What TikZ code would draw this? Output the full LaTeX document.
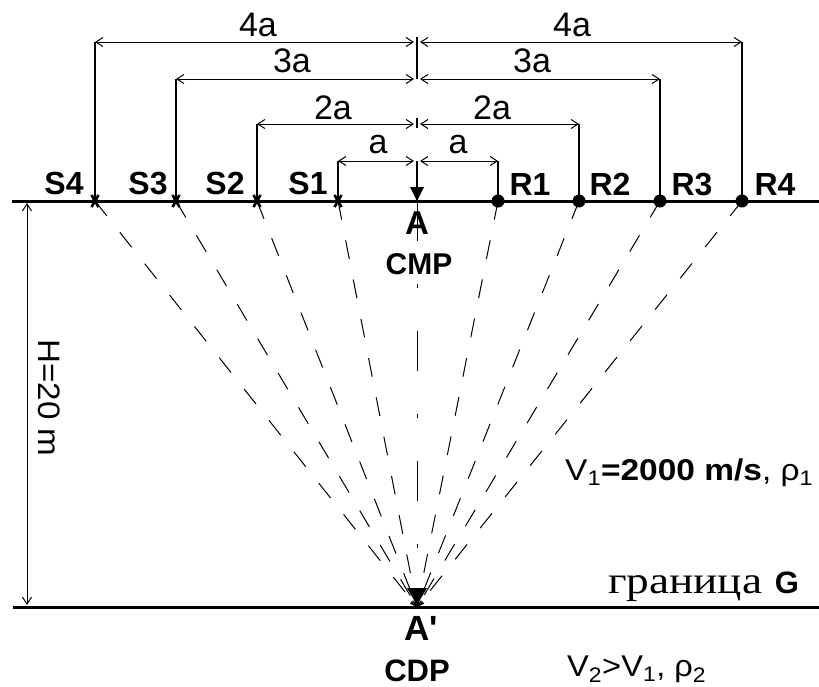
\documentclass[tikz,border=0pt]{standalone}
\usepackage{fontspec}
\setmainfont{Liberation Sans}
\newfontfamily\ruserif{Liberation Serif}
\usetikzlibrary{arrows.meta}
\newcommand\fitw[2]{\resizebox{#1}{\height}{#2}}
\begin{document}
\begin{tikzpicture}[x=1pt,y=-1pt,
  ground/.style={line width=3pt},
  dimline/.style={line width=1pt,{Straight Barb[length=7pt,width=9pt]}-{Straight Barb[length=7pt,width=9pt]}},
  guide/.style={line width=1.2pt},
  ray/.style={line width=1pt,dash pattern=on 19pt off 21pt,-{Straight Barb[length=6pt,width=6pt]}},
  axisline/.style={line width=1pt,dash pattern=on 40pt off 43pt on 4pt off 43pt},
  lbl/.style={font=\fontsize{32}{36}\selectfont\bfseries,inner sep=0pt,anchor=base},
  dimlbl/.style={font=\fontsize{34}{38}\selectfont,inner sep=0pt},
  rec/.style={circle,fill,inner sep=0pt,minimum size=13pt},
  src/.style={line width=2.6pt},
  txt/.style={inner sep=0pt,font=\fontsize{30}{34}\selectfont},
]
\useasboundingbox (0,0) rectangle (819,686);
% ground lines
\coordinate (gL) at (12,201);
\coordinate (gR) at (819,201);
\coordinate (bL) at (13,607);
\coordinate (bR) at (819,607);
\draw[ground] (gL) -- (gR);
\draw[ground] (bL) -- (bR);
% points
\coordinate (A) at (417,201);
\coordinate (Ap) at (417,607);
\foreach \i/\sx/\rx in {1/338/498,2/257/579,3/176/660,4/95/742}{
  \coordinate (S\i) at (\sx,201);
  \coordinate (R\i) at (\rx,201);
}
% rays
\draw[axisline] (A) -- (Ap);
\foreach \i in {1,2,3,4}{
  \draw[ray] (S\i) -- (Ap);
  \draw[ray] (R\i) -- (Ap);
}
% dimension lines
\foreach \i/\sx/\rx/\lv in {1/338/498/161,2/257/579/124,3/176/660/79,4/95/742/42}{
  \coordinate (sd\i) at (\sx,\lv);
  \coordinate (cdl\i) at (414,\lv);
  \coordinate (cdr\i) at (420,\lv);
  \coordinate (rd\i) at (\rx,\lv);
  \draw[guide] (S\i) -- (sd\i);
  \draw[guide] (R\i) -- (rd\i);
  \draw[dimline] (sd\i) -- (cdl\i);
  \draw[dimline] (cdr\i) -- (rd\i);
}
\coordinate (ctop) at (417,37);
\coordinate (c3) at (417,79);
\coordinate (c2a) at (417,118);
\coordinate (c2b) at (417,128);
\coordinate (c1) at (417,161);
\draw[guide] (ctop) -- (c3);
\draw[guide] (c2a) -- (c2b);
\draw[guide] (c1) -- (A);
\fill (410,187) -- (424,187) -- (A) -- cycle;
\fill (407,588) -- (427,588) -- (417,605) -- cycle;
% markers
\foreach \i in {1,2,3,4}{
  \node[rec] (rc\i) at (R\i) {};
  \fill (S\i) circle (3pt);
  \foreach \a in {0,60,120}{
    \draw[src] (S\i) ++(\a:7) -- ++(\a+180:14);
  }
}
% station labels
\node[lbl] (tS4) at (64,194) {S4};
\node[lbl] (tS3) at (148,194) {S3};
\node[lbl] (tS2) at (225,194) {S2};
\node[lbl] (tS1) at (308,194) {S1};
\node[lbl] (tR1) at (530,195) {R1};
\node[lbl] (tR2) at (610,195) {R2};
\node[lbl] (tR3) at (692,195) {R3};
\node[lbl] (tR4) at (775,195) {R4};
% dimension labels
\node[dimlbl] (d4l) at (258,25) {4a};
\node[dimlbl] (d4r) at (572,25) {4a};
\node[dimlbl] (d3l) at (292,61) {3a};
\node[dimlbl] (d3r) at (532,61) {3a};
\node[dimlbl] (d2l) at (333,108) {2a};
\node[dimlbl] (d2r) at (492,108) {2a};
\node[dimlbl] (d1l) at (378,145) {a};
\node[dimlbl] (d1r) at (458,145) {a};
% A, CMP, A', CDP
\node[inner sep=0pt,anchor=base,font=\fontsize{33}{36}\selectfont\bfseries] (tA) at (417,234) {A};
\node[inner sep=0pt,anchor=base,font=\fontsize{30}{33}\selectfont\bfseries] (tCMP) at (419,274) {CMP};
\node[inner sep=0pt,anchor=base,font=\fontsize{35}{38}\selectfont\bfseries] (tAp) at (421,640) {A\textquotesingle};
\node[inner sep=0pt,anchor=base,font=\fontsize{31}{34}\selectfont\bfseries] (tCDP) at (417,681) {CDP};
% H arrow
\coordinate (hT) at (27,203);
\coordinate (hB) at (27,605);
\draw[dimline] (hT) -- (hB);
\node[inner sep=0pt,font=\fontsize{31}{34}\selectfont,rotate=-90] (tH) at (49,398) {\fitw{117pt}{H=20 m}};
% media texts
\node[txt,anchor=base west] (tV1) at (565,480) {\fitw{248pt}{V\textsubscript{1}\textbf{=2000 m/s}, ρ\textsubscript{1}}};
\node[txt,anchor=base west] (tV2) at (567,676) {\fitw{139pt}{V\textsubscript{2}>V\textsubscript{1}, ρ\textsubscript{2}}};
\node[inner sep=0pt,anchor=base west,font=\fontsize{38}{40}\ruserif] (tG) at (608,593) {\fitw{154pt}{граница}};
\node[inner sep=0pt,anchor=base,font=\fontsize{31}{34}\selectfont\bfseries] (tGG) at (787,593) {G};
\end{tikzpicture}
\end{document}
